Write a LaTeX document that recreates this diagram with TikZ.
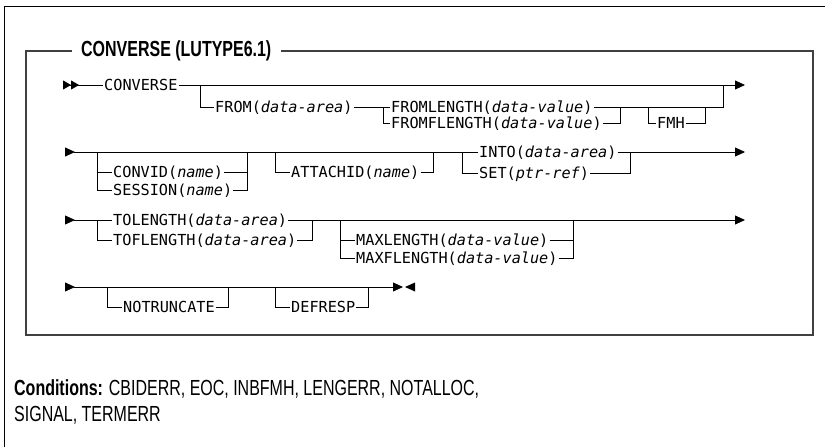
\documentclass[tikz,border=0pt]{standalone}
\usepackage{graphicx}
\usepackage{fontspec}
\setmainfont{Liberation Sans}
\newfontfamily\railfont{DejaVu Sans Mono}
\usetikzlibrary{arrows.meta}
\newcommand{\argit}[1]{\textit{#1}}
\newcommand{\narrow}[1]{\scalebox{0.82}[1.12]{#1}}
\tikzset{
  kw/.style={anchor=west, inner sep=1pt, text height=11pt, text depth=0pt,
    font=\railfont\fontsize{15.2}{18}\selectfont},
  rail/.style={line width=0.8pt},
  tipend/.style={-{Triangle[length=10pt,width=9pt]}},
  tipone/.style={{Triangle[reversed,length=10pt,width=9pt]}-},
  tipboth/.style={{Triangle[reversed,length=10pt,width=9pt]}-{Triangle[length=10pt,width=9pt]}},
  tiptwo/.style={{Triangle[reversed,length=8pt,width=9pt]Triangle[reversed,length=8pt,width=9pt]}-},
  boxline/.style={line width=1.2pt, black!75},
  ttl/.style={anchor=west, inner xsep=9pt, inner ysep=0pt, font=\bfseries\fontsize{19.5}{22}\selectfont},
}
\begin{document}
\begin{tikzpicture}[x=1pt,y=-1pt]
\useasboundingbox (0,0) rectangle (825,447);
\draw[line width=1pt] (825,6) -- (4,6) -- (4,447);
\node[ttl] (title) at (72,51) {\narrow{CONVERSE (LUTYPE6.1)}};
\draw[boxline] (title.west) -- (26,51) -- (26,335) -- (813,335) -- (813,51) -- (title.east);

% row 1
\coordinate (r1s) at (63,85);
\coordinate (r1e) at (745,85);
\coordinate (fromin) at (200,85);
\coordinate (fromout) at (723,85);
\coordinate (flenin) at (383,107);
\coordinate (flenout) at (620,107);
\coordinate (fmhin) at (648,107);
\coordinate (fmhout) at (705,107);
\node[kw] (conv) at (103,85) {CONVERSE};
\node[kw] (from) at (214,107) {FROM(\argit{data-area})};
\node[kw] (flen) at (390,107) {FROMLENGTH(\argit{data-value})};
\node[kw] (fflen) at (390,123) {FROMFLENGTH(\argit{data-value})};
\node[kw] (fmh) at (656,123) {FMH};
\draw[rail, tiptwo] (r1s) -- (conv);
\draw[rail, tipend] (conv) -- (r1e);
\draw[rail] (fromin) |- (from);
\draw[rail] (from) -- (flen);
\draw[rail] (flenin) |- (fflen);
\draw[rail] (fflen) -| (flenout);
\draw[rail] (flen) -| (fromout);
\draw[rail] (fmhin) |- (fmh);
\draw[rail] (fmh) -| (fmhout);

% row 2
\coordinate (r2s) at (65,152);
\coordinate (r2e) at (745,152);
\coordinate (cvin) at (97,152);
\coordinate (cvout) at (247,152);
\coordinate (atin) at (275,152);
\coordinate (atout) at (433,152);
\coordinate (intoin) at (462,152);
\coordinate (intoout) at (630,152);
\node[kw] (cvid) at (112,172) {CONVID(\argit{name})};
\node[kw] (sess) at (112,190) {SESSION(\argit{name})};
\node[kw] (atid) at (290,172) {ATTACHID(\argit{name})};
\node[kw] (into) at (478,152) {INTO(\argit{data-area})};
\node[kw] (setp) at (478,173) {SET(\argit{ptr-ref})};
\draw[rail, tipone] (r2s) -- (into);
\draw[rail, tipend] (into) -- (r2e);
\draw[rail] (cvin) |- (sess);
\draw[rail] (cvin |- cvid) -- (cvid);
\draw[rail] (cvid) -| (cvout);
\draw[rail] (sess) -| (cvout);
\draw[rail] (atin) |- (atid);
\draw[rail] (atid) -| (atout);
\draw[rail] (intoin) |- (setp);
\draw[rail] (setp) -| (intoout);

% row 3
\coordinate (r3s) at (65,220);
\coordinate (r3e) at (745,220);
\coordinate (toin) at (97,220);
\coordinate (toout) at (312,220);
\coordinate (mxin) at (340,220);
\coordinate (mxout) at (573,220);
\node[kw] (tolen) at (112,220) {TOLENGTH(\argit{data-area})};
\node[kw] (toflen) at (112,240) {TOFLENGTH(\argit{data-area})};
\node[kw] (mxlen) at (355,240) {MAXLENGTH(\argit{data-value})};
\node[kw] (mxflen) at (355,258) {MAXFLENGTH(\argit{data-value})};
\draw[rail, tipone] (r3s) -- (tolen);
\draw[rail, tipend] (tolen) -- (r3e);
\draw[rail] (toin) |- (toflen);
\draw[rail] (toflen) -| (toout);
\draw[rail] (mxin) |- (mxflen);
\draw[rail] (mxin |- mxlen) -- (mxlen);
\draw[rail] (mxlen) -| (mxout);
\draw[rail] (mxflen) -| (mxout);

% row 4
\coordinate (r4s) at (65,287);
\coordinate (r4e) at (403,287);
\coordinate (ntin) at (107,287);
\coordinate (ntout) at (228,287);
\coordinate (dfin) at (275,287);
\coordinate (dfout) at (368,287);
\node[kw] (notr) at (122,307) {NOTRUNCATE};
\node[kw] (defr) at (290,307) {DEFRESP};
\draw[rail, tipboth] (r4s) -- (r4e);
\fill ([xshift=2pt]r4e) -- ++(10,-4.5) -- ++(0,9) -- cycle;
\draw[rail] (ntin) |- (notr);
\draw[rail] (notr) -| (ntout);
\draw[rail] (dfin) |- (defr);
\draw[rail] (defr) -| (dfout);

\node[anchor=base west, inner sep=0pt, align=left, font=\fontsize{19.5}{26}\selectfont] (cond) at (14,421)
  {\narrow{\textbf{Conditions:} CBIDERR, EOC, INBFMH, LENGERR, NOTALLOC,}\\\narrow{SIGNAL, TERMERR}};
\end{tikzpicture}
\end{document}
